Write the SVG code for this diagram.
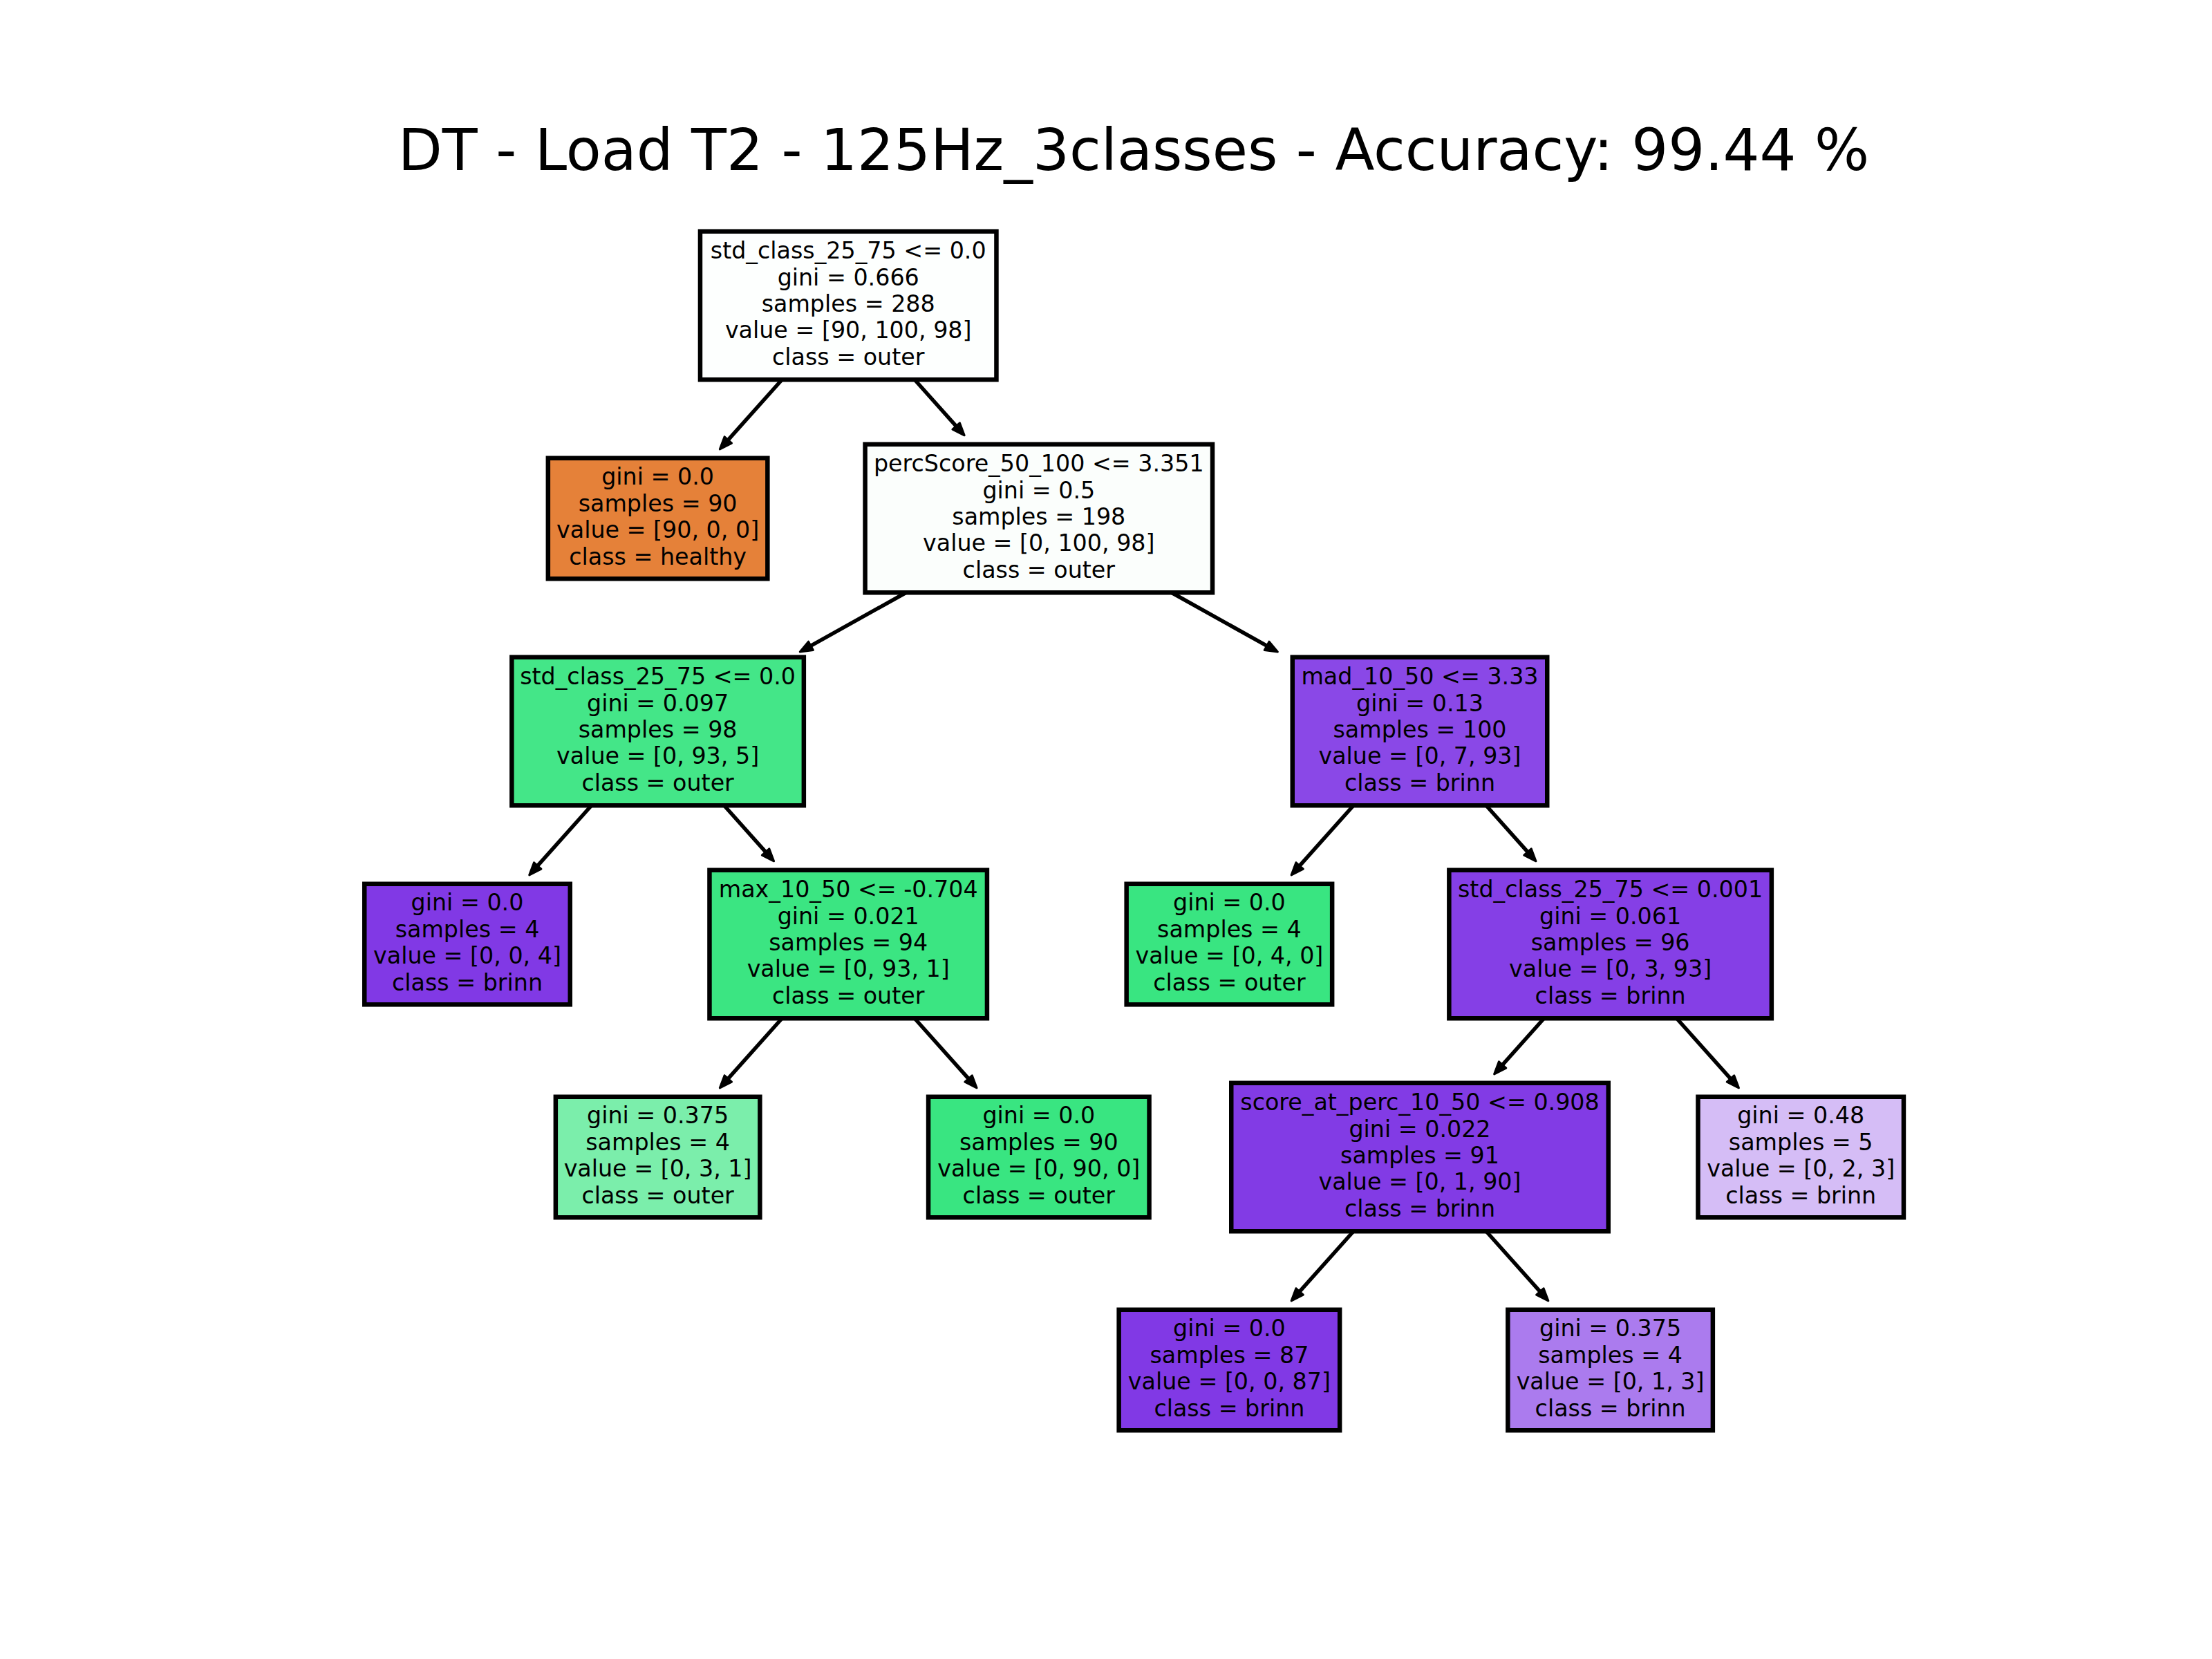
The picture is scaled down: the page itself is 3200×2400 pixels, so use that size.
<svg xmlns="http://www.w3.org/2000/svg" width="3200" height="2400" viewBox="0 0 3200 2400">
  <style>
    .title { font-family: "DejaVu Sans", "Liberation Sans", sans-serif; font-size: 83.3px; text-anchor: middle; fill: #000; }
    .t { font-family: "DejaVu Sans", "Liberation Sans", sans-serif; font-size: 33.3px; text-anchor: middle; fill: #000; }
    .box { stroke: #000; stroke-width: 6.5; }
    .edge { stroke: #000; stroke-width: 5.5; fill: none; marker-end: url(#head); }
  </style>
  <defs>
    <marker id="head" viewBox="-4 -12 26 24" markerWidth="26" markerHeight="24" refX="8" refY="0" orient="auto" markerUnits="userSpaceOnUse">
      <path d="M0,-7 L18,0 L0,7 Z" fill="#000" stroke="#000" stroke-width="3" stroke-linejoin="round"/>
    </marker>
  </defs>
  <rect width="3200" height="2400" fill="#fff"/>

  <text class="title" x="1640" y="246">DT - Load T2 - 125Hz_3classes - Accuracy: 99.44 %</text>

  <!-- parent-to-child arrows -->
  <g id="edges">
    <line class="edge" x1="1131.0" y1="549.5" x2="1048.0" y2="642.4"/>
    <line class="edge" x1="1323.4" y1="549.5" x2="1388.5" y2="622.4"/>
    <line class="edge" x1="1310.4" y1="857.5" x2="1166.0" y2="938.2"/>
    <line class="edge" x1="1695.2" y1="857.5" x2="1839.6" y2="938.2"/>
    <line class="edge" x1="855.4" y1="1165.5" x2="772.4" y2="1258.4"/>
    <line class="edge" x1="1047.8" y1="1165.5" x2="1112.9" y2="1238.4"/>
    <line class="edge" x1="1957.8" y1="1165.5" x2="1874.8" y2="1258.4"/>
    <line class="edge" x1="2150.2" y1="1165.5" x2="2215.3" y2="1238.4"/>
    <line class="edge" x1="1131.0" y1="1473.5" x2="1048.0" y2="1566.4"/>
    <line class="edge" x1="1323.4" y1="1473.5" x2="1406.4" y2="1566.4"/>
    <line class="edge" x1="2233.4" y1="1473.5" x2="2168.3" y2="1546.4"/>
    <line class="edge" x1="2425.8" y1="1473.5" x2="2508.8" y2="1566.4"/>
    <line class="edge" x1="1957.8" y1="1781.5" x2="1874.8" y2="1874.4"/>
    <line class="edge" x1="2150.2" y1="1781.5" x2="2233.2" y2="1874.4"/>
  </g>

  <g id="node0">
    <rect class="box" x="1012.95" y="334.75" width="428.5" height="214.5" fill="#fdfffe"/>
    <text class="t" x="1227.2" y="374.2">std_class_25_75 &lt;= 0.0<tspan x="1227.2" dy="38.4">gini = 0.666</tspan><tspan x="1227.2" dy="38.4">samples = 288</tspan><tspan x="1227.2" dy="38.4">value = [90, 100, 98]</tspan><tspan x="1227.2" dy="38.4">class = outer</tspan></text>
  </g>

  <g id="node1">
    <rect class="box" x="792.85" y="662.75" width="317.5" height="174.5" fill="#e58139"/>
    <text class="t" x="951.6" y="701.4">gini = 0.0<tspan x="951.6" dy="38.4">samples = 90</tspan><tspan x="951.6" dy="38.4">value = [90, 0, 0]</tspan><tspan x="951.6" dy="38.4">class = healthy</tspan></text>
  </g>

  <g id="node2">
    <rect class="box" x="1251.55" y="642.75" width="502.5" height="214.5" fill="#fbfefc"/>
    <text class="t" x="1502.8" y="682.2">percScore_50_100 &lt;= 3.351<tspan x="1502.8" dy="38.4">gini = 0.5</tspan><tspan x="1502.8" dy="38.4">samples = 198</tspan><tspan x="1502.8" dy="38.4">value = [0, 100, 98]</tspan><tspan x="1502.8" dy="38.4">class = outer</tspan></text>
  </g>

  <g id="node3">
    <rect class="box" x="740.35" y="950.75" width="422.5" height="214.5" fill="#44e688"/>
    <text class="t" x="951.6" y="990.2">std_class_25_75 &lt;= 0.0<tspan x="951.6" dy="38.4">gini = 0.097</tspan><tspan x="951.6" dy="38.4">samples = 98</tspan><tspan x="951.6" dy="38.4">value = [0, 93, 5]</tspan><tspan x="951.6" dy="38.4">class = outer</tspan></text>
  </g>

  <g id="node4">
    <rect class="box" x="527.25" y="1278.75" width="297.5" height="174.5" fill="#8139e5"/>
    <text class="t" x="676" y="1317.4">gini = 0.0<tspan x="676" dy="38.4">samples = 4</tspan><tspan x="676" dy="38.4">value = [0, 0, 4]</tspan><tspan x="676" dy="38.4">class = brinn</tspan></text>
  </g>

  <g id="node5">
    <rect class="box" x="1026.45" y="1258.75" width="401.5" height="214.5" fill="#3be582"/>
    <text class="t" x="1227.2" y="1298.2">max_10_50 &lt;= -0.704<tspan x="1227.2" dy="38.4">gini = 0.021</tspan><tspan x="1227.2" dy="38.4">samples = 94</tspan><tspan x="1227.2" dy="38.4">value = [0, 93, 1]</tspan><tspan x="1227.2" dy="38.4">class = outer</tspan></text>
  </g>

  <g id="node6">
    <rect class="box" x="803.85" y="1586.75" width="295.5" height="174.5" fill="#7beeab"/>
    <text class="t" x="951.6" y="1625.4">gini = 0.375<tspan x="951.6" dy="38.4">samples = 4</tspan><tspan x="951.6" dy="38.4">value = [0, 3, 1]</tspan><tspan x="951.6" dy="38.4">class = outer</tspan></text>
  </g>

  <g id="node7">
    <rect class="box" x="1343.05" y="1586.75" width="319.5" height="174.5" fill="#39e581"/>
    <text class="t" x="1502.8" y="1625.4">gini = 0.0<tspan x="1502.8" dy="38.4">samples = 90</tspan><tspan x="1502.8" dy="38.4">value = [0, 90, 0]</tspan><tspan x="1502.8" dy="38.4">class = outer</tspan></text>
  </g>

  <g id="node8">
    <rect class="box" x="1869.75" y="950.75" width="368.5" height="214.5" fill="#8a48e7"/>
    <text class="t" x="2054" y="990.2">mad_10_50 &lt;= 3.33<tspan x="2054" dy="38.4">gini = 0.13</tspan><tspan x="2054" dy="38.4">samples = 100</tspan><tspan x="2054" dy="38.4">value = [0, 7, 93]</tspan><tspan x="2054" dy="38.4">class = brinn</tspan></text>
  </g>

  <g id="node9">
    <rect class="box" x="1629.65" y="1278.75" width="297.5" height="174.5" fill="#39e581"/>
    <text class="t" x="1778.4" y="1317.4">gini = 0.0<tspan x="1778.4" dy="38.4">samples = 4</tspan><tspan x="1778.4" dy="38.4">value = [0, 4, 0]</tspan><tspan x="1778.4" dy="38.4">class = outer</tspan></text>
  </g>

  <g id="node10">
    <rect class="box" x="2096.35" y="1258.75" width="466.5" height="214.5" fill="#853fe6"/>
    <text class="t" x="2329.6" y="1298.2">std_class_25_75 &lt;= 0.001<tspan x="2329.6" dy="38.4">gini = 0.061</tspan><tspan x="2329.6" dy="38.4">samples = 96</tspan><tspan x="2329.6" dy="38.4">value = [0, 3, 93]</tspan><tspan x="2329.6" dy="38.4">class = brinn</tspan></text>
  </g>

  <g id="node11">
    <rect class="box" x="1781.25" y="1566.75" width="545.5" height="214.5" fill="#823be5"/>
    <text class="t" x="2054" y="1606.2">score_at_perc_10_50 &lt;= 0.908<tspan x="2054" dy="38.4">gini = 0.022</tspan><tspan x="2054" dy="38.4">samples = 91</tspan><tspan x="2054" dy="38.4">value = [0, 1, 90]</tspan><tspan x="2054" dy="38.4">class = brinn</tspan></text>
  </g>

  <g id="node12">
    <rect class="box" x="1618.65" y="1894.75" width="319.5" height="174.5" fill="#8139e5"/>
    <text class="t" x="1778.4" y="1933.4">gini = 0.0<tspan x="1778.4" dy="38.4">samples = 87</tspan><tspan x="1778.4" dy="38.4">value = [0, 0, 87]</tspan><tspan x="1778.4" dy="38.4">class = brinn</tspan></text>
  </g>

  <g id="node13">
    <rect class="box" x="2181.35" y="1894.75" width="296.5" height="174.5" fill="#ab7bee"/>
    <text class="t" x="2329.6" y="1933.4">gini = 0.375<tspan x="2329.6" dy="38.4">samples = 4</tspan><tspan x="2329.6" dy="38.4">value = [0, 1, 3]</tspan><tspan x="2329.6" dy="38.4">class = brinn</tspan></text>
  </g>

  <g id="node14">
    <rect class="box" x="2456.45" y="1586.75" width="297.5" height="174.5" fill="#d5bdf6"/>
    <text class="t" x="2605.2" y="1625.4">gini = 0.48<tspan x="2605.2" dy="38.4">samples = 5</tspan><tspan x="2605.2" dy="38.4">value = [0, 2, 3]</tspan><tspan x="2605.2" dy="38.4">class = brinn</tspan></text>
  </g>
</svg>
